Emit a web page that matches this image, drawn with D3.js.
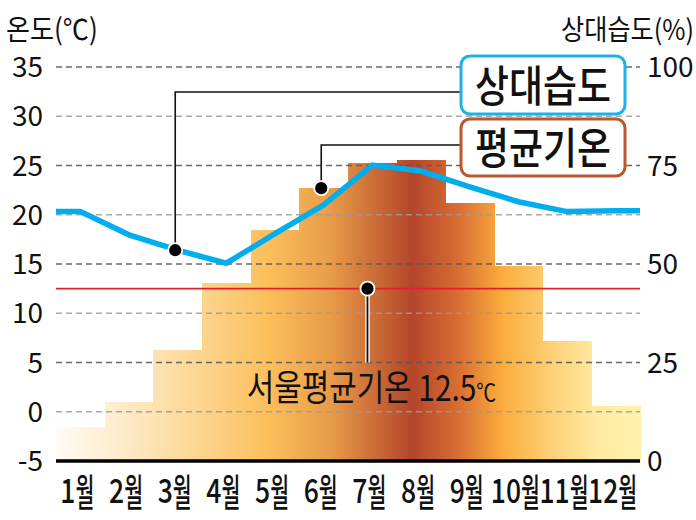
<!DOCTYPE html>
<html><head><meta charset="utf-8">
<script src="https://cdn.jsdelivr.net/npm/d3@7"></script>
<style>
html,body{margin:0;padding:0;background:#fff;}
svg{display:block;}
text{font-family:"Noto Sans CJK KR","Noto Sans",sans-serif;fill:#111;}
</style></head>
<body>
<svg id="chart" width="696" height="520"></svg>
<script>
// ---- data ----
const months = ["1월","2월","3월","4월","5월","6월","7월","8월","9월","10월","11월","12월"];
const temperature = [-1.5, 1.0, 6.3, 13.1, 18.5, 22.7, 25.3, 25.6, 21.2, 14.8, 7.2, 0.6];
const humidity = [63.3, 57.4, 53.5, 50.2, 57.7, 65.0, 75.1, 73.6, 69.6, 65.8, 63.3, 63.5];
const tempTicks = [-5, 0, 5, 10, 15, 20, 25, 30, 35];
const humTicks = [0, 25, 50, 75, 100];
const meanTemp = 12.5;
const legendLabels = ["상대습도", "평균기온"];

// ---- layout ----
const L = 56, R = 640, T = 67, B = 461;
const svg = d3.select("#chart");

const x = d3.scaleBand().domain(months).range([L, R]).padding(0);
const xPos = d3.scaleLinear().domain([0, 12]).range([L, R]); // band units
const yT = d3.scaleLinear().domain([-5, 35]).range([B, T]);
const yH = d3.scaleLinear().domain([0, 100]).range([B, T]);

// gradient
const defs = svg.append("defs");
const grad = defs.append("linearGradient").attr("id", "warm")
  .attr("gradientUnits", "userSpaceOnUse")
  .attr("x1", L).attr("x2", R).attr("y1", 0).attr("y2", 0);
[[0, "#fffbf4"], [0.16, "#fde4b6"], [0.36, "#fcc05c"], [0.47, "#e89c48"],
 [0.61, "#b4452a"], [0.69, "#d96e33"], [0.765, "#fbad3c"], [0.86, "#fdd47e"],
 [0.93, "#ffeba2"], [1, "#fff1a8"]].forEach(([o, c]) =>
  grad.append("stop").attr("offset", o).attr("stop-color", c));

// bars
svg.append("g").selectAll("rect").data(temperature).join("rect")
  .attr("x", (d, i) => x(months[i]))
  .attr("width", x.bandwidth() + 0.5)
  .attr("y", d => yT(d))
  .attr("height", d => yT(-5) - yT(d))
  .attr("fill", "url(#warm)")
  .attr("shape-rendering", "crispEdges");

// gridlines
const grid = svg.append("g");
tempTicks.filter(t => t > -5).forEach(t => {
  const major = ((t + 5) % 10) === 0;
  grid.append("line")
    .attr("x1", L).attr("x2", R).attr("y1", yT(t)).attr("y2", yT(t))
    .attr("stroke", major ? "#5a5a5a" : "#9a9a9a")
    .attr("stroke-opacity", major ? 0.9 : 0.85)
    .attr("stroke-width", 1.6)
    .attr("stroke-dasharray", "6,4");
});

// left axis labels
svg.append("g").selectAll("text").data(tempTicks).join("text")
  .attr("x", 43).attr("y", d => yT(d) + 10)
  .attr("text-anchor", "end").attr("font-size", 28)
  .text(d => d);
// right axis labels
svg.append("g").selectAll("text").data(humTicks).join("text")
  .attr("x", 647).attr("y", d => yH(d) + 10)
  .attr("text-anchor", "start").attr("font-size", 28)
  .text(d => d);

// titles
svg.append("text").attr("transform", "translate(6,40) scale(0.9,1)")
  .attr("font-size", 29).text("온도(℃)");
svg.append("text").attr("transform", "translate(694,40) scale(0.9,1)")
  .attr("text-anchor", "end").attr("font-size", 28).text("상대습도(%)");

// baseline
svg.append("line").attr("x1", L).attr("x2", R).attr("y1", B).attr("y2", B)
  .attr("stroke", "#000").attr("stroke-width", 3.5);

// mean temperature line
svg.append("line").attr("x1", L).attr("x2", R)
  .attr("y1", yT(meanTemp)).attr("y2", yT(meanTemp))
  .attr("stroke", "#e3202a").attr("stroke-width", 1.6);

// humidity line
const hPts = [[L, humidity[0]]]
  .concat(humidity.map((h, i) => [x(months[i]) + x.bandwidth() / 2, h]))
  .concat([[R, humidity[humidity.length - 1]]]);
svg.append("path")
  .attr("d", d3.line().x(d => d[0]).y(d => yH(d[1]))(hPts))
  .attr("fill", "none").attr("stroke", "#00aeef").attr("stroke-width", 5.5)
  .attr("stroke-linejoin", "miter");

// legend boxes
const boxX = 461, boxW = 164;
const boxes = [
  {label: legendLabels[0], y: 56, h: 58, stroke: "#1db1e8", leaderY: 92},
  {label: legendLabels[1], y: 119, h: 57, stroke: "#b9572f", leaderY: 145}
];

// annotation leaders
const humDot = [xPos(2.45), yH(53.5)];
const tmpDot = [xPos(5.45), yT(temperature[5])];
const leader = svg.append("g").attr("fill", "none").attr("stroke", "#111").attr("stroke-width", 1.6);
leader.append("path").attr("d", `M${humDot[0]},${humDot[1]}V${boxes[0].leaderY}H${boxX}`);
leader.append("path").attr("d", `M${tmpDot[0]},${tmpDot[1]}V${boxes[1].leaderY}H${boxX}`);

// mean annotation
const meanDot = [xPos(6.4), yT(meanTemp)];
svg.append("line").attr("x1", meanDot[0]).attr("x2", meanDot[0])
  .attr("y1", meanDot[1]).attr("y2", yT(5)).attr("stroke", "#fff").attr("stroke-width", 4.5);
svg.append("line").attr("x1", meanDot[0]).attr("x2", meanDot[0])
  .attr("y1", meanDot[1]).attr("y2", yT(5)).attr("stroke", "#111").attr("stroke-width", 1.8);

[humDot, tmpDot, meanDot].forEach(p => {
  svg.append("circle").attr("cx", p[0]).attr("cy", p[1]).attr("r", 7)
    .attr("fill", "#000").attr("stroke", "#fff").attr("stroke-width", 1.8);
});

const meanText = svg.append("text")
  .attr("transform", `translate(${meanDot[0] + 4},401) scale(0.83,1)`)
  .attr("text-anchor", "middle").attr("font-size", 36);
meanText.append("tspan").text("서울평균기온 " + meanTemp);
meanText.append("tspan").attr("font-size", 24).text("℃");

boxes.forEach(b => {
  svg.append("rect").attr("x", boxX).attr("y", b.y).attr("width", boxW).attr("height", b.h)
    .attr("rx", 9).attr("fill", "#fff").attr("stroke", b.stroke).attr("stroke-width", 3);
  svg.append("text")
    .attr("transform", `translate(${boxX + boxW / 2},${b.y + b.h - 12}) scale(0.86,1)`)
    .attr("text-anchor", "middle").attr("font-size", 43).attr("font-weight", 500)
    .text(b.label);
});

// x labels (condensed)
months.forEach((m, i) => {
  const cx = x(m) + x.bandwidth() / 2 - 3;
  const g = svg.append("g").attr("transform", `translate(${cx},503)`);
  const num = m.replace("월", "");
  const sN = 0.78, sW = 0.54;
  const tn = g.append("text").attr("font-size", 34).attr("font-weight", 500).attr("transform", `scale(${sN},1)`).text(num);
  const tw = g.append("text").attr("font-size", 38).attr("font-weight", 500).attr("transform", `scale(${sW},1)`).text("월");
  const wn = tn.node().getComputedTextLength() * sN;
  const ww = tw.node().getComputedTextLength() * sW;
  const start = -(wn + ww) / 2;
  tn.attr("x", start / sN);
  tw.attr("x", (start + wn) / sW).attr("y", 3);
});
</script>
</body></html>
